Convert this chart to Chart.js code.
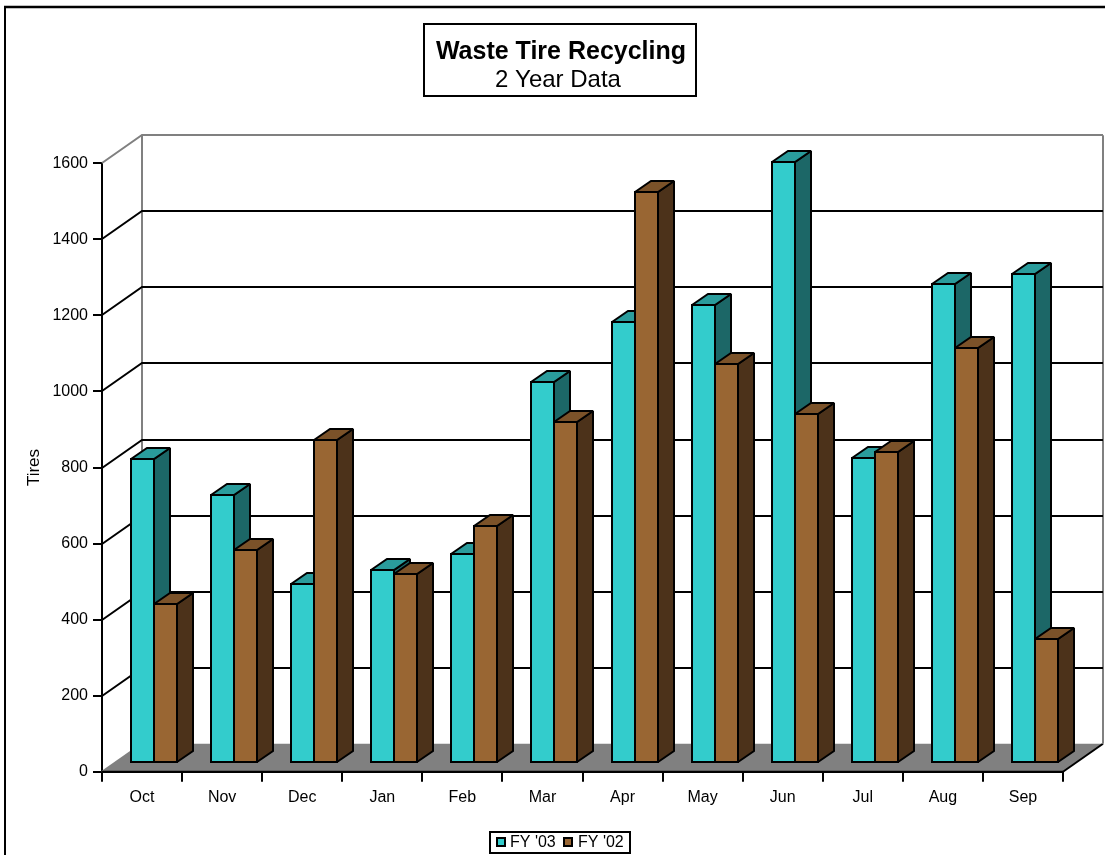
<!DOCTYPE html>
<html>
<head>
<meta charset="utf-8">
<title>Waste Tire Recycling</title>
<script src="https://cdn.jsdelivr.net/npm/chart.js@4/dist/chart.umd.min.js"></script>
<style>
  html, body { margin: 0; padding: 0; background: #ffffff; }
  canvas { display: block; }
</style>
</head>
<body>
<canvas id="chart" width="1105" height="855"></canvas>
<script>
// Monthly tire counts, fiscal year order (Oct .. Sep)
const months = ['Oct', 'Nov', 'Dec', 'Jan', 'Feb', 'Mar', 'Apr', 'May', 'Jun', 'Jul', 'Aug', 'Sep'];
const fy03 = [800, 705, 471, 508, 550, 1004, 1160, 1204, 1581, 804, 1261, 1287];
const fy02 = [418, 560, 850, 497, 624, 898, 1502, 1050, 919, 818, 1091, 326];
const seriesNames = ["FY '03", "FY '02"];
const axisMin = 0;
const axisMax = 1600;
const axisStep = 200;

const FONT = "'Liberation Sans', Arial, Helvetica, sans-serif";

// Face colours for each series: front, top, side
const faces = [
  { front: '#33CCCC', top: '#2A9C9C', side: '#1C6767' },
  { front: '#996633', top: '#7B5229', side: '#4C321A' }
];

// Depth of the 3-D box (projection of the floor's depth onto the screen)
const DEPTH_X = 40;
const DEPTH_Y = -28;
// Bars occupy the middle slice of the depth
const BAR_FRONT = 0.3;
const BAR_BACK = 0.7;

function poly(ctx, pts) {
  ctx.beginPath();
  ctx.moveTo(pts[0][0], pts[0][1]);
  for (let i = 1; i < pts.length; i++) ctx.lineTo(pts[i][0], pts[i][1]);
  ctx.closePath();
}

function line(ctx, x1, y1, x2, y2, color, w) {
  ctx.beginPath();
  ctx.moveTo(x1, y1);
  ctx.lineTo(x2, y2);
  ctx.strokeStyle = color;
  ctx.lineWidth = w;
  ctx.stroke();
}

// Walls, floor and 3-D bars, all positioned from the chart's scales and bar elements
const box3d = {
  id: 'box3d',
  beforeDatasetsDraw(chart) {
    const ctx = chart.ctx;
    const { left, right, bottom } = chart.chartArea;
    const yScale = chart.scales.y;
    const dx = DEPTH_X, dy = DEPTH_Y;
    const yTop = yScale.getPixelForValue(axisMax);

    ctx.save();
    ctx.lineJoin = 'miter';
    ctx.miterLimit = 1.5;
    ctx.lineCap = 'butt';

    // floor
    poly(ctx, [[left, bottom], [right, bottom], [right + dx, bottom + dy], [left + dx, bottom + dy]]);
    ctx.fillStyle = '#808080';
    ctx.fill();
    line(ctx, left, bottom, left + dx, bottom + dy, '#808080', 2);
    line(ctx, right, bottom, right + dx, bottom + dy, '#000000', 2);

    // back-wall edges
    line(ctx, left + dx, yTop + dy, left + dx, bottom + dy, '#808080', 2);
    line(ctx, right + dx, yTop + dy, right + dx, bottom + dy, '#808080', 2);

    // grid lines: diagonal on the side wall, horizontal on the back wall
    for (let v = axisMin + axisStep; v <= axisMax; v += axisStep) {
      const py = Math.round(yScale.getPixelForValue(v));
      const col = v === axisMax ? '#808080' : '#000000';
      ctx.beginPath();
      ctx.moveTo(left, py);
      ctx.lineTo(left + dx, py + dy);
      ctx.lineTo(right + dx, py + dy);
      ctx.strokeStyle = col;
      ctx.lineWidth = 2;
      ctx.stroke();
    }

    // front edge of the floor on top of the fill
    line(ctx, left, bottom, right, bottom, '#000000', 2);

    // bars, painted left to right so nearer faces cover farther ones
    const fx = dx * BAR_FRONT, fy = dy * BAR_FRONT;
    const sx = Math.round(dx * (BAR_BACK - BAR_FRONT)), sy = Math.round(dy * (BAR_BACK - BAR_FRONT));
    const metas = chart.data.datasets.map((d, i) => chart.getDatasetMeta(i));
    for (let i = 0; i < months.length; i++) {
      metas.forEach((meta, d) => {
        const el = meta.data[i];
        const p = el.getProps(['x', 'y', 'base', 'width'], true);
        const x0 = Math.round(p.x - p.width / 2 + fx);
        const x1 = Math.round(p.x + p.width / 2 + fx);
        const yt = Math.round(p.y + fy);
        const yb = Math.round(p.base + fy);
        const c = faces[d];
        ctx.lineWidth = 2;
        ctx.strokeStyle = '#000000';

        // side
        poly(ctx, [[x1, yt], [x1 + sx, yt + sy], [x1 + sx, yb + sy], [x1, yb]]);
        ctx.fillStyle = c.side; ctx.fill(); ctx.stroke();
        // top
        poly(ctx, [[x0, yt], [x1, yt], [x1 + sx, yt + sy], [x0 + sx, yt + sy]]);
        ctx.fillStyle = c.top; ctx.fill(); ctx.stroke();
        // front
        poly(ctx, [[x0, yt], [x1, yt], [x1, yb], [x0, yb]]);
        ctx.fillStyle = c.front; ctx.fill(); ctx.stroke();
      });
    }
    ctx.restore();
    return false;
  },
  afterDraw(chart) {
    const ctx = chart.ctx;
    ctx.save();

    // outer frame
    line(ctx, 5, 7, 5, 860, '#000000', 2);
    line(ctx, 4, 7, 1110, 7, '#000000', 2.5);

    // title box
    ctx.fillStyle = '#ffffff';
    ctx.fillRect(424, 24, 272, 72);
    ctx.strokeStyle = '#000000';
    ctx.lineWidth = 2;
    ctx.strokeRect(424, 24, 272, 72);
    ctx.fillStyle = '#000000';
    ctx.textAlign = 'center';
    ctx.textBaseline = 'alphabetic';
    ctx.font = 'bold 25px ' + FONT;
    ctx.fillText('Waste Tire Recycling', 561, 59);
    ctx.font = '24px ' + FONT;
    ctx.fillText('2 Year Data', 558, 87);

    // legend
    ctx.fillStyle = '#ffffff';
    ctx.fillRect(490, 832, 140, 21);
    ctx.strokeRect(490, 832, 140, 21);
    ctx.font = '16px ' + FONT;
    ctx.textAlign = 'left';
    const items = [
      { box: 497, text: 510 },
      { box: 564, text: 578 }
    ];
    chart.data.datasets.forEach((ds, d) => {
      const it = items[d];
      ctx.fillStyle = ds.backgroundColor;
      ctx.fillRect(it.box, 838, 8, 8);
      ctx.lineWidth = 2;
      ctx.strokeStyle = '#000000';
      ctx.strokeRect(it.box, 838, 8, 8);
      ctx.fillStyle = '#000000';
      ctx.fillText(ds.label, it.text, 847);
    });
    ctx.restore();
  }
};

const tickFont = { family: FONT, size: 16 };

new Chart(document.getElementById('chart'), {
  type: 'bar',
  data: {
    labels: months,
    datasets: [
      { label: seriesNames[0], data: fy03, backgroundColor: faces[0].front },
      { label: seriesNames[1], data: fy02, backgroundColor: faces[1].front }
    ]
  },
  options: {
    responsive: false,
    animation: false,
    devicePixelRatio: 1,
    categoryPercentage: 0.575,
    barPercentage: 1,
    layout: { padding: { left: 0, right: 42, top: 163.3, bottom: 43.3 } },
    plugins: {
      legend: { display: false },
      title: { display: false },
      tooltip: { enabled: false }
    },
    scales: {
      x: {
        offset: true,
        grid: { offset: true, drawOnChartArea: false, drawTicks: true, tickLength: 10, color: '#000000', lineWidth: 2 },
        border: { display: true, color: '#000000', width: 2 },
        ticks: { color: '#000000', font: tickFont, padding: 6, maxRotation: 0, autoSkip: false },
        afterFit(scale) { scale.height = 40; }
      },
      y: {
        min: axisMin,
        max: axisMax,
        grid: { drawOnChartArea: false, drawTicks: true, tickLength: 9, color: '#000000', lineWidth: 2 },
        border: { display: true, color: '#000000', width: 2 },
        ticks: { stepSize: axisStep, color: '#000000', font: tickFont, padding: 5, callback: (v) => String(v) },
        title: { display: true, text: 'Tires', color: '#000000', font: { family: FONT, size: 17 }, padding: { top: 24, bottom: 0 } },
        afterFit(scale) { scale.width = 102; }
      }
    }
  },
  plugins: [box3d]
});
</script>
</body>
</html>
